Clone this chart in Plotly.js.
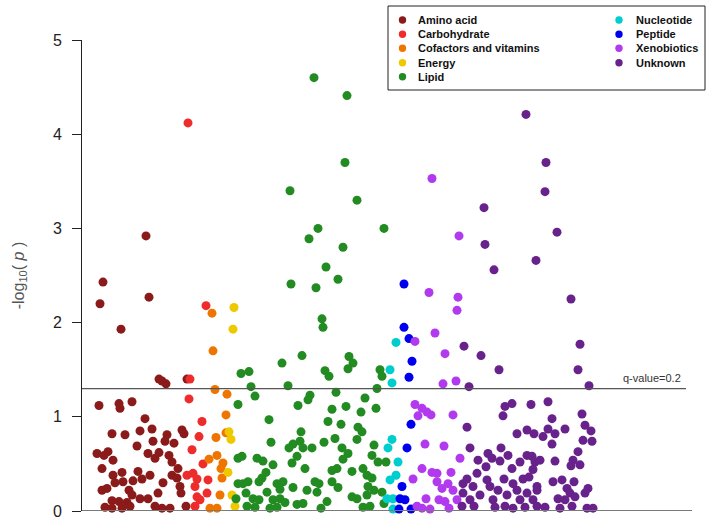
<!DOCTYPE html>
<html>
<head>
<meta charset="utf-8">
<script src="https://cdn.plot.ly/plotly-3.0.1.min.js"></script>
<style>html,body{margin:0;padding:0;background:#fff;}#chart{width:713px;height:525px;}</style>
</head>
<body>
<div id="chart"></div>
<script>
// ---- Data: [position index, -log10(p)] per metabolite class ----
const categories = ["Amino acid","Carbohydrate","Cofactors and vitamins","Energy","Lipid","Nucleotide","Peptide","Xenobiotics","Unknown"];
const classColors = ["#8B1A1A","#EE2C2C","#EE7600","#EEC900","#228B22","#00CDCD","#0000EE","#B23AEE","#68228B"];

const aminoAcid = [[21,2.43],[18,2.20],[39,1.93],[64,2.92],[67,2.27],[77,1.40],[80,1.38],[84,1.35],[105,1.40],
 [17,1.12],[37,1.14],[38,1.09],[50,1.16],[63,0.98],[30,0.82],[43,0.81],[58,0.85],[70,0.87],[85,0.81],[100,0.86],[102,0.82],
 [55,0.69],[71,0.74],[83,0.74],[92,0.72],[15,0.61],[26,0.63],[22,0.59],[31,0.54],[66,0.61],[77,0.62],[73,0.56],[87,0.59],
 [90,0.52],[20,0.45],[96,0.45],[31,0.38],[40,0.41],[56,0.42],[68,0.38],[33,0.30],[41,0.31],[51,0.32],[60,0.34],[81,0.30],
 [90,0.38],[95,0.35],[98,0.26],[20,0.22],[25,0.24],[47,0.22],[50,0.17],[58,0.13],[66,0.13],[76,0.19],[99,0.19],[30,0.11],
 [37,0.10],[45,0.09],[23,0.04],[30,0.03],[40,0.03],[48,0.05],[73,0.05],[80,0.03],[88,0.03],[104,0.05]];
const carbohydrate = [[106,4.12],[124,2.18],[108,1.40],[107,1.19],[120,0.95],[117,0.79],[110,0.65],[121,0.50],[105,0.38],
 [111,0.40],[115,0.34],[126,0.33],[113,0.26],[125,0.19],[115,0.15],[118,0.12],[113,0.05]];
const cofactors = [[130,2.10],[131,1.70],[133,1.29],[145,1.24],[144,1.02],[134,0.78],[144,0.83],[135,0.59],[127,0.55],
 [141,0.51],[139,0.45],[140,0.35],[138,0.17],[128,0.03],[135,0.03]];
const energy = [[152,2.16],[151,1.93],[147,0.84],[149,0.76],[146,0.41],[150,0.17],[153,0.05]];
const lipid = [[232,4.60],[265,4.41],[263,3.70],[208,3.40],[275,3.30],[236,3.00],[302,3.00],[227,2.89],[261,2.80],[244,2.59],
 [256,2.46],[209,2.41],[234,2.37],[240,2.04],[241,1.95],[220,1.65],[200,1.57],[267,1.64],[271,1.57],[266,1.51],[243,1.49],
 [247,1.43],[159,1.46],[167,1.48],[298,1.50],[300,1.43],[169,1.32],[206,1.33],[295,1.30],
 [173,1.22],[156,1.13],[228,1.23],[226,1.18],[216,1.12],[254,1.26],[283,1.20],[264,1.11],[250,1.08],[294,1.09],[279,1.05],
 [187,0.97],[246,0.95],[259,0.92],[276,0.89],[280,0.84],[219,0.84],[253,0.77],[275,0.76],[242,0.73],[189,0.73],[211,0.71],
 [218,0.74],[207,0.67],[221,0.67],[230,0.67],[260,0.67],[292,0.70],[160,0.58],[175,0.56],[181,0.53],[215,0.58],[210,0.51],
 [266,0.61],[261,0.55],[290,0.59],[296,0.52],[304,0.52],[191,0.49],[223,0.45],[250,0.43],[255,0.45],[270,0.42],[281,0.45],
 [285,0.38],[290,0.35],[184,0.41],[180,0.35],[177,0.31],[161,0.29],[166,0.31],[195,0.29],[201,0.31],[198,0.23],[211,0.25],
 [233,0.31],[237,0.29],[235,0.20],[225,0.22],[250,0.31],[256,0.25],[286,0.26],[292,0.22],[300,0.20],[285,0.17],[270,0.15],
 [275,0.13],[164,0.19],[171,0.13],[177,0.12],[185,0.20],[191,0.12],[198,0.13],[203,0.09],[215,0.07],[221,0.08],[165,0.05],
 [173,0.04],[188,0.03],[195,0.04],[239,0.03],[245,0.10],[281,0.04],[288,0.05],[302,0.08],[154,0.13],[156,0.56],[156,0.29]];
const nucleotide = [[314,1.79],[308,1.50],[310,1.36],[310,0.76],[306,0.67],[316,0.52],[314,0.38],[308,0.33],[305,0.13],[311,0.13],[311,0.02]];
const peptide = [[322,2.41],[322,1.95],[327,1.83],[330,1.59],[327,1.42],[329,0.92],[325,0.67],[320,0.26],[318,0.13],[323,0.12],[317,0.02],[329,0.02]];
const xenobiotics = [[350,3.53],[377,2.92],[347,2.32],[376,2.27],[375,2.13],[353,1.89],[333,1.80],[363,1.67],[361,1.35],[374,1.38],
 [333,1.13],[340,1.09],[336,1.01],[345,1.05],[349,1.02],[371,1.02],[343,0.71],[362,0.69],[378,0.56],[340,0.45],[350,0.41],
 [355,0.40],[369,0.41],[331,0.34],[355,0.31],[366,0.29],[360,0.24],[371,0.22],[344,0.13],[357,0.12],[363,0.10],[335,0.05],
 [340,0.03],[367,0.03],[375,0.12],[348,0.02]];
const unknown = [[444,4.21],[464,3.70],[463,3.39],[402,3.22],[475,2.96],[403,2.83],[454,2.66],[412,2.56],[489,2.25],[498,1.77],
 [496,1.50],[507,1.33],[382,1.75],[399,1.65],[417,1.50],[387,1.32],
 [423,1.11],[430,1.14],[449,1.13],[421,1.01],[385,0.89],[435,0.82],[445,0.86],[452,0.82],[388,0.67],[419,0.67],[406,0.61],
 [410,0.56],[426,0.59],[445,0.59],[450,0.58],[396,0.54],[418,0.53],[438,0.52],[453,0.52],[404,0.47],[430,0.45],[451,0.44],
 [395,0.40],[385,0.34],[381,0.29],[405,0.33],[422,0.34],[441,0.34],[447,0.36],[391,0.26],[408,0.26],[431,0.29],[416,0.22],
 [435,0.22],[455,0.26],[381,0.19],[398,0.17],[425,0.17],[445,0.19],[388,0.12],[411,0.12],[438,0.12],[451,0.12],[392,0.05],
 [413,0.04],[423,0.05],[431,0.03],[443,0.04],[455,0.05],[380,0.05],
 [466,1.16],[500,1.03],[470,0.98],[503,0.91],[509,0.85],[483,0.87],[466,0.87],[473,0.82],[461,0.79],[501,0.75],[510,0.74],
 [470,0.71],[496,0.63],[458,0.54],[473,0.53],[491,0.54],[498,0.49],[489,0.48],[471,0.31],[480,0.33],[492,0.31],[506,0.24],
 [455,0.22],[485,0.24],[488,0.19],[503,0.19],[476,0.13],[483,0.12],[493,0.15],[463,0.04],[478,0.03],[490,0.05],[505,0.03],[511,0.03]];

const series = [aminoAcid, carbohydrate, cofactors, energy, lipid, nucleotide, peptide, xenobiotics, unknown];
const qThreshold = 1.3;       // -log10(p) cut-off drawn as q-value = 0.2
const qLabel = "q-value=0.2";
const yTicks = [0,1,2,3,4,5];

// ---- Plot geometry ----
const W = 713, H = 525, L = 82, R = 21, T = 40, B = 14;
const pw = W - L - R, ph = H - T - B;
const px2x = p => (p - L) / pw;      // pixel -> paper
const py2y = p => (H - B - p) / ph;

const traces = series.map((pts, i) => ({
  type: "scatter", mode: "markers", name: categories[i],
  x: pts.map(p => p[0]), y: pts.map(p => p[1]),
  marker: {color: classColors[i], size: 9, line: {width: 0}},
  cliponaxis: false, showlegend: false
}));

const shapes = [
  {type: "line", xref: "x", yref: "y", x0: 0, x1: 610, y0: 0, y1: 0, line: {color: "#7a7a7a", width: 2}},
  {type: "line", xref: "x", yref: "y", x0: 0, x1: 604, y0: qThreshold, y1: qThreshold, line: {color: "#555", width: 1.3}},
  {type: "rect", xref: "paper", yref: "paper", x0: px2x(388), x1: px2x(705), y0: py2y(90), y1: py2y(6), line: {color: "#222", width: 1}, fillcolor: "rgba(0,0,0,0)"}
];
const annotations = [
  {xref: "x", yref: "y", x: 570, y: 1.41, text: qLabel, showarrow: false, font: {family: "Liberation Sans, Arial", size: 11, color: "#333"}}
];
// manual two-column legend
const rowsY = [20, 34.3, 48.3, 62.7, 76.7];
categories.forEach((c, i) => {
  const col = i < 5 ? 0 : 1, row = i < 5 ? i : i - 5;
  const mx = col === 0 ? 402.5 : 619, tx = col === 0 ? 416 : 634;
  const yy = py2y(rowsY[row]);
  shapes.push({type: "circle", xref: "paper", yref: "paper", xsizemode: "pixel", ysizemode: "pixel",
    xanchor: px2x(mx), yanchor: yy, x0: -3.7, x1: 3.7, y0: -3.7, y1: 3.7,
    fillcolor: classColors[i], line: {width: 0}});
  annotations.push({xref: "paper", yref: "paper", x: px2x(tx), y: yy, xanchor: "left", yanchor: "middle",
    text: c, showarrow: false, font: {family: "Liberation Sans, Arial", size: 11, color: "#111", weight: "bold"}});
});

const layout = {
  width: W, height: H, margin: {l: L, r: R, t: T, b: B},
  paper_bgcolor: "#fff", plot_bgcolor: "#fff", showlegend: false,
  xaxis: {range: [0, 610], visible: false, showgrid: false, zeroline: false},
  yaxis: {range: [0, 5], tickvals: yTicks, ticktext: yTicks.map(String), showgrid: false, zeroline: false,
    showline: true, linecolor: "#222", linewidth: 1, ticks: "outside", ticklen: 9, tickcolor: "#222",
    tickfont: {family: "Liberation Sans, Arial", size: 16, color: "#222"}, ticklabelstandoff: 7,
    title: {text: "-log<sub>10</sub>( <i>p</i> )", standoff: 24, font: {family: "Liberation Sans, Arial", size: 16, color: "#555"}}},
  shapes: shapes, annotations: annotations
};
Plotly.newPlot("chart", traces, layout, {displayModeBar: false, staticPlot: true});
</script>
</body>
</html>
